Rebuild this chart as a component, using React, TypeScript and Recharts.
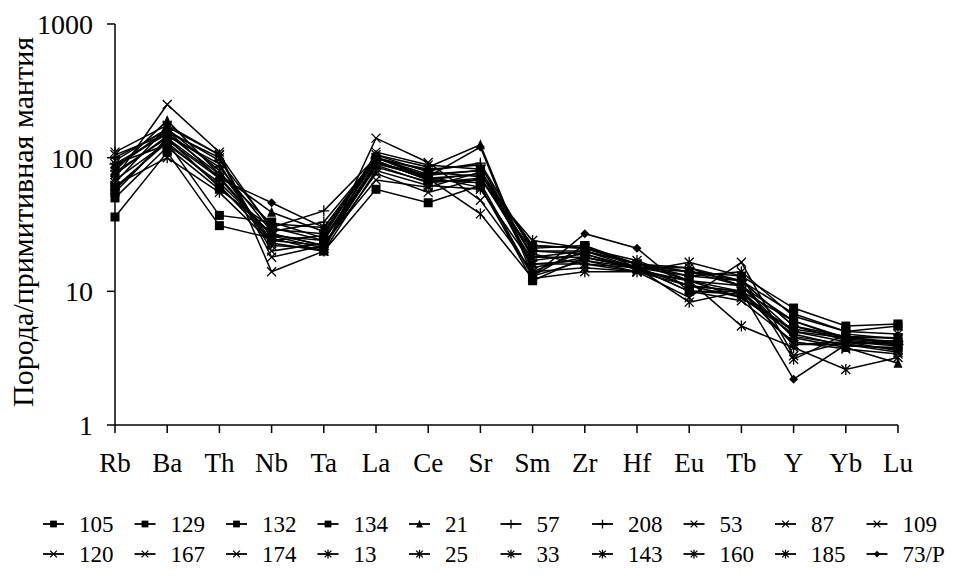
import { Customized, Line, LineChart, XAxis, YAxis } from 'recharts';

document.body.style.margin = '0';

const elements = ['Rb', 'Ba', 'Th', 'Nb', 'Ta', 'La', 'Ce', 'Sr', 'Sm', 'Zr', 'Hf', 'Eu', 'Tb', 'Y', 'Yb', 'Lu'];

const s105 = [55, 140, 60, 27, 22, 92, 70, 75, 22, 21, 16, 13, 12, 6.8, 5.0, 5.5];
const s129 = [50, 120, 58, 30, 24, 100, 75, 80, 21, 22, 16, 14, 13, 7.5, 5.5, 5.7];
const s132 = [36, 110, 31, 25, 20, 58, 46, 62, 12, 18, 15, 10, 9.5, 5.0, 4.2, 4.0];
const s134 = [60, 130, 37, 33, 25, 95, 68, 65, 13, 22, 15, 11, 10, 6.0, 4.5, 4.5];
const s21 = [80, 190, 75, 39, 28, 105, 85, 125, 14, 20, 16, 12, 11, 4.5, 3.8, 2.9];
const s57 = [100, 160, 95, 30, 40, 100, 80, 91, 20, 19, 15, 15, 12, 5.5, 4.3, 4.0];
const s208 = [90, 150, 85, 28, 33, 98, 82, 88, 18, 20, 16, 14, 11, 5.0, 4.5, 4.2];
const s53 = [70, 250, 110, 14, 20, 140, 92, 48, 14, 15, 14, 9, 16.5, 3.3, 4.2, 3.6];
const s87 = [65, 170, 105, 18, 22, 76, 55, 70, 19, 16, 14, 12, 10, 4.0, 4.0, 3.5];
const s109 = [85, 155, 100, 20, 23, 68, 60, 78, 16, 17, 15, 11, 9, 4.8, 3.9, 3.8];
const s120 = [75, 145, 90, 22, 21, 110, 88, 82, 15, 18, 15, 10, 8.5, 4.2, 3.7, 3.4];
const s167 = [95, 165, 80, 24, 26, 105, 78, 72, 17, 19, 14.5, 12, 9, 5.2, 4.6, 4.0];
const s174 = [58, 135, 70, 26, 24, 90, 72, 60, 13, 17, 14, 11, 10, 4.6, 4.0, 3.7];
const s13 = [110, 175, 105, 29, 27, 100, 70, 38, 12.5, 14, 14, 16.5, 13, 3.1, 4.8, 4.4];
const s25 = [105, 150, 75, 32, 30, 95, 68, 76, 22, 21, 16, 15, 11, 6.0, 4.4, 4.1];
const s33 = [90, 125, 65, 27, 22, 88, 65, 70, 20, 20, 15, 14, 12, 5.5, 4.6, 4.5];
const s143 = [78, 140, 72, 26, 21, 92, 74, 80, 18, 18, 15, 8.3, 10, 4.0, 4.2, 3.9];
const s160 = [68, 130, 62, 24, 22, 85, 66, 68, 24, 21, 17, 12, 5.5, 3.8, 2.6, 3.2];
const s185 = [62, 100, 55, 23, 20, 80, 62, 58, 16, 16, 15, 13, 14, 6.5, 5.0, 4.8];
const s73P = [85, 160, 70, 46, 30, 100, 72, 120, 13, 27, 21, 10, 10, 2.2, 4.0, 4.3];

const yTicks = [1, 10, 100, 1000];

type Shape = 'square' | 'triangle' | 'plus' | 'x' | 'star' | 'diamond';

const series: { name: string; values: number[]; shape: Shape }[] = [
  { name: '105', values: s105, shape: 'square' },
  { name: '129', values: s129, shape: 'square' },
  { name: '132', values: s132, shape: 'square' },
  { name: '134', values: s134, shape: 'square' },
  { name: '21', values: s21, shape: 'triangle' },
  { name: '57', values: s57, shape: 'plus' },
  { name: '208', values: s208, shape: 'plus' },
  { name: '53', values: s53, shape: 'x' },
  { name: '87', values: s87, shape: 'x' },
  { name: '109', values: s109, shape: 'x' },
  { name: '120', values: s120, shape: 'x' },
  { name: '167', values: s167, shape: 'x' },
  { name: '174', values: s174, shape: 'x' },
  { name: '13', values: s13, shape: 'star' },
  { name: '25', values: s25, shape: 'star' },
  { name: '33', values: s33, shape: 'star' },
  { name: '143', values: s143, shape: 'star' },
  { name: '160', values: s160, shape: 'star' },
  { name: '185', values: s185, shape: 'star' },
  { name: '73/P', values: s73P, shape: 'diamond' },
];

const data = elements.map((el, i) => {
  const row: Record<string, string | number> = { el };
  series.forEach((s) => (row[s.name] = s.values[i]));
  return row;
});

const SERIF = 'Liberation Serif';

function Marker({ cx, cy, shape, scale = 1 }: { cx: number; cy: number; shape: Shape; scale?: number }) {
  const r = 4.5 * scale;
  switch (shape) {
    case 'square':
      return <rect x={cx - r} y={cy - r} width={r * 2} height={r * 2} fill="#000" />;
    case 'triangle':
      return <polygon points={`${cx},${cy - r - 1} ${cx + r},${cy + r} ${cx - r},${cy + r}`} fill="#000" />;
    case 'diamond':
      return <polygon points={`${cx},${cy - r} ${cx + r},${cy} ${cx},${cy + r} ${cx - r},${cy}`} fill="#000" />;
    case 'plus':
      return (
        <path d={`M${cx - r - 1},${cy}H${cx + r + 1}M${cx},${cy - r - 1}V${cy + r + 1}`} stroke="#000" strokeWidth={1.3} fill="none" />
      );
    case 'x':
      return (
        <path d={`M${cx - r},${cy - r}L${cx + r},${cy + r}M${cx - r},${cy + r}L${cx + r},${cy - r}`} stroke="#000" strokeWidth={1.3} fill="none" />
      );
    default:
      return (
        <path
          d={`M${cx - r},${cy - r}L${cx + r},${cy + r}M${cx - r},${cy + r}L${cx + r},${cy - r}M${cx},${cy - r - 1}V${cy + r + 1}`}
          stroke="#000"
          strokeWidth={1.3}
          fill="none"
        />
      );
  }
}

// legend drawn inside the chart svg, two rows of ten
function LegendRows() {
  return (
    <g className="legend-rows">
      {series.map((s, i) => {
        const col = i % 10;
        const rowIdx = Math.floor(i / 10);
        const x0 = 43 + col * 91.5;
        const y0 = 524 + rowIdx * 30;
        return (
          <g key={s.name}>
            <line x1={x0} y1={y0} x2={x0 + 21} y2={y0} stroke="#000" strokeWidth={1.8} />
            <Marker cx={x0 + 10.5} cy={y0} shape={s.shape} scale={0.75} />
            <text x={x0 + 36} y={y0 + 8} fontFamily={SERIF} fontSize={23} fill="#000">
              {s.name}
            </text>
          </g>
        );
      })}
    </g>
  );
}

export default function App() {
  return (
    <div style={{ width: 953, height: 576, background: '#fff' }}>
      <LineChart width={953} height={576} data={data} margin={{ top: 24, right: 55, bottom: 121, left: 0 }}>
        <XAxis
          dataKey="el"
          stroke="#000"
          strokeWidth={1.5}
          tickSize={8}
          tickMargin={20}
          interval={0}
          tick={{ fill: '#000', fontSize: 27, fontFamily: SERIF }}
        />
        <YAxis
          scale="log"
          domain={[1, 1000]}
          ticks={yTicks}
          allowDataOverflow
          width={115}
          stroke="#000"
          strokeWidth={1.5}
          tickSize={8}
          tickMargin={14}
          tick={{ fill: '#000', fontSize: 28, fontFamily: SERIF }}
          label={{
            content: () => (
              <text
                x={22}
                y={222}
                transform="rotate(-90 22 222)"
                textAnchor="middle"
                dominantBaseline="central"
                fontFamily={SERIF}
                fontSize={30}
                fill="#000"
              >
                Порода/примитивная мантия
              </text>
            ),
          }}
        />
        {series.map((s) => (
          <Line
            key={s.name}
            dataKey={s.name}
            stroke="#000"
            strokeWidth={1.5}
            isAnimationActive={false}
            dot={(p: any) => <Marker key={`${s.name}-${p.index}`} cx={p.cx} cy={p.cy} shape={s.shape} />}
            activeDot={false}
          />
        ))}
        <Customized component={LegendRows} />
      </LineChart>
    </div>
  );
}
